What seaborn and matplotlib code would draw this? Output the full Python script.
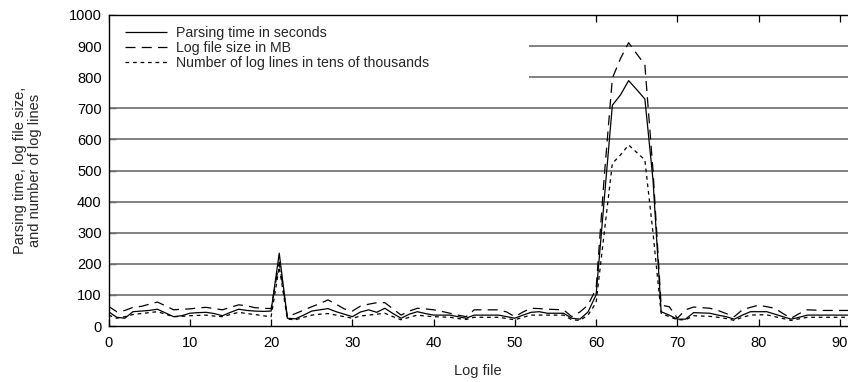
import numpy as np
import pandas as pd
import matplotlib
matplotlib.use("Agg")
import matplotlib.pyplot as plt
import seaborn as sns
from matplotlib.patches import Rectangle

log_file = list(range(92))

parsing_time = [46, 28, 25, 46, 48, 50, 54, 42, 30, 33,
                41, 43, 44, 40, 33, 44, 54, 50, 48, 47,
                48, 234, 25, 23, 35, 48, 52, 56, 46, 38,
                30, 45, 52, 44, 57, 40, 25, 38, 46, 40,
                35, 35, 35, 30, 25, 35, 35, 35, 35, 30,
                25, 35, 44, 46, 41, 41, 41, 25, 22, 45,
                100, 407, 710, 743, 789, 760, 730, 470, 46, 35,
                22, 22, 43, 42, 41, 35, 30, 22, 35, 46,
                46, 46, 38, 30, 22, 28, 35, 35, 35, 35,
                35, 35]

file_size_mb = [63, 46, 50, 60, 63, 70, 77, 65, 52, 54,
                55, 58, 60, 56, 52, 60, 68, 65, 59, 57,
                56, 205, 30, 40, 51, 62, 72, 84, 70, 55,
                48, 64, 70, 75, 75, 55, 35, 48, 57, 55,
                52, 47, 41, 35, 30, 52, 52, 52, 52, 45,
                30, 45, 57, 56, 54, 53, 52, 30, 45, 67,
                120, 480, 797, 860, 911, 875, 840, 500, 67, 62,
                25, 52, 61, 59, 57, 50, 40, 30, 52, 60,
                67, 62, 57, 40, 25, 40, 52, 51, 50, 50,
                50, 50]

log_lines_10k = [35, 25, 30, 37, 40, 43, 46, 38, 30, 31,
                 33, 34, 35, 32, 30, 37, 44, 40, 37, 33,
                 30, 190, 22, 20, 28, 35, 38, 40, 35, 30,
                 25, 32, 35, 38, 41, 30, 20, 28, 35, 32,
                 30, 29, 28, 24, 21, 28, 28, 28, 28, 24,
                 20, 28, 35, 35, 35, 35, 35, 20, 18, 35,
                 75, 300, 523, 550, 582, 558, 534, 300, 41, 30,
                 20, 20, 33, 32, 31, 28, 24, 18, 28, 35,
                 36, 36, 30, 24, 18, 23, 28, 28, 28, 28,
                 28, 28]

labels = ["Parsing time in seconds", "Log file size in MB",
          "Number of log lines in tens of thousands"]
x_ticks = [0, 10, 20, 30, 40, 50, 60, 70, 80, 90]
y_ticks = [0, 100, 200, 300, 400, 500, 600, 700, 800, 900, 1000]

sns.set_style("white")
plt.rcParams["font.family"] = ["Liberation Sans", "DejaVu Sans"]
FS = 10.5

fig = plt.figure(figsize=(8.48, 3.82), dpi=100)
ax = fig.add_axes([108.6 / 848, 1 - 326 / 382, (848 - 108.6) / 848, (326 - 15) / 382])

df = pd.DataFrame({"x": log_file, "a": parsing_time, "b": file_size_mb, "c": log_lines_10k})

styles = [("a", (0, ()), labels[0]),
          ("b", (0, (8, 5)), labels[1]),
          ("c", (0, (3, 3)), labels[2])]
for col, ls, lab in styles:
    sns.lineplot(data=df, x="x", y=col, ax=ax, color="black", lw=0.9,
                 linestyle=ls, label=lab, zorder=3)

for yv in y_ticks[1:-1]:
    ax.axhline(yv, color="#777777", lw=1.3, zorder=1)

ax.add_patch(Rectangle((0, 0.75), 51.8 / 91, 0.25, transform=ax.transAxes,
                       facecolor="white", edgecolor="none", zorder=2))

ax.set_xlim(0, 91)
ax.set_ylim(0, 1000)
ax.set_xticks(x_ticks)
ax.set_yticks(y_ticks)
ax.tick_params(axis="both", direction="in", length=5, width=0.9, labelsize=FS,
               top=True, bottom=True, left=True, right=False, colors="black")
ax.tick_params(axis="x", pad=7)
ax.tick_params(axis="y", pad=5)
for s in ["left", "bottom", "top"]:
    ax.spines[s].set_visible(True)
    ax.spines[s].set_color("black")
    ax.spines[s].set_linewidth(1.0)
ax.spines["right"].set_visible(False)

ax.set_xlabel("Log file", fontsize=FS, labelpad=10)
ax.set_ylabel("Parsing time, log file size,\nand number of log lines", fontsize=FS,
              labelpad=19, linespacing=1.15)

leg = ax.legend(loc="upper left", bbox_to_anchor=(16 / 739.4, 0.965), frameon=False,
                fontsize=10.2, handlelength=3.0, handletextpad=0.65, labelspacing=0.08,
                borderpad=0, borderaxespad=0)
leg.set_zorder(5)

fig.savefig("out.png", dpi=100)
